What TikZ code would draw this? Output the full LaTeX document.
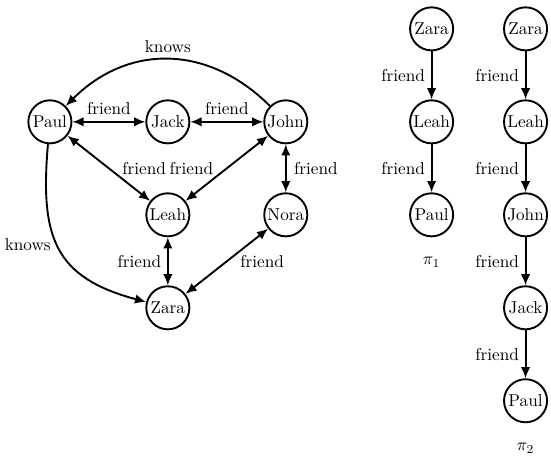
\documentclass[tikz,border=0pt]{standalone}
\usetikzlibrary{arrows.meta}
\begin{document}
\begin{tikzpicture}[node distance = 2.41cm, auto, >={Latex[length=6.5pt, width=5.5pt]}, line width=1.1pt,
                    person/.style={circle, draw, minimum size=0.88cm, inner sep=1pt}]
                    \useasboundingbox (-1.02,-6.87) rectangle (10.24,2.49);
                    % the graph
                    \node[person] (paul) {Paul};
                    \node[person] (jack)[right of=paul] {Jack};
                    \node[person] (john)[right of=jack] {John};
                    \node[person] (leah)[node distance=1.9cm, below of=jack] {Leah};
                    \node[person] (nora)[node distance=1.9cm, below of=john] {Nora};
                    \node[person] (zara)[node distance=1.9cm, below of=leah] {Zara};
                    \draw[<->] (paul) to node {friend} (jack);
                    \draw[<->] (jack) to node {friend} (john);
                    \draw[<->] (paul) to node[right=4pt] {friend} (leah);
                    \draw[<->] (john) to node[left=4pt] {friend} (leah);
                    \draw[<->] (john) to node[right=1pt] {friend} (nora);
                    \draw[<->] (leah) to node[left] {friend} (zara);
                    \draw[<->] (nora) to node[right=4pt] {friend} (zara);
                    \draw[->] (john) to[out=135, in=45, looseness=1.1] node[swap] {knows} (paul);
                    \draw[->] (paul) to[out=-95, in=165, looseness=1.3] node[left, pos=0.47] {knows} (zara);
                    % path pi_1
                    \node[person] (z1)[node distance=1.9cm, above of=john, xshift=2.98cm] {Zara};
                    \node[person] (l1)[node distance=1.9cm, below of=z1] {Leah};
                    \node[person] (p1)[node distance=1.9cm, below of=l1] {Paul};
                    \node (pi1)[node distance=0.97cm, below of=p1] {$\pi_1$};
                    \draw[->] (z1) to node[swap] {friend} (l1);
                    \draw[->] (l1) to node[swap] {friend} (p1);
                    % path pi_2
                    \node[person] (z2)[node distance=1.92cm, right of=z1] {Zara};
                    \node[person] (l2)[node distance=1.9cm, below of=z2] {Leah};
                    \node[person] (j2)[node distance=1.9cm, below of=l2] {John};
                    \node[person] (k2)[node distance=1.9cm, below of=j2] {Jack};
                    \node[person] (p2)[node distance=1.9cm, below of=k2] {Paul};
                    \node (pi2)[node distance=0.97cm, below of=p2] {$\pi_2$};
                    \draw[->] (z2) to node[swap] {friend} (l2);
                    \draw[->] (l2) to node[swap] {friend} (j2);
                    \draw[->] (j2) to node[swap] {friend} (k2);
                    \draw[->] (k2) to node[swap] {friend} (p2);
                \end{tikzpicture}
\end{document}
